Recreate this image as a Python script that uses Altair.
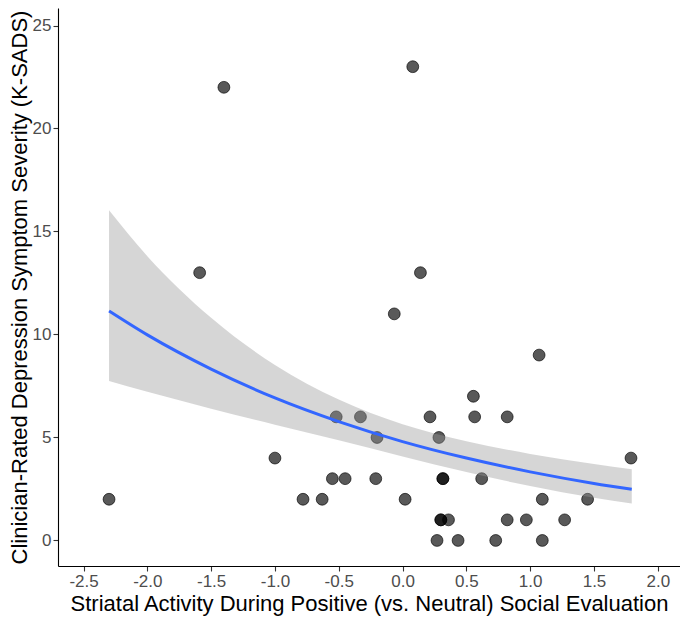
import altair as alt
import pandas as pd

# Scatter data
activity = [-2.30, -1.40, -1.59, -1.00, -0.78, -0.63, -0.55, -0.45, -0.21,
            -0.52, -0.33, -0.20, 0.08, 0.14, -0.065, 1.07, 0.555, 0.215,
            0.565, 0.82, 0.285, 1.79, 0.316, 0.316, 0.62, 0.02, 1.095, 1.45,
            0.30, 0.30, 0.36, 0.82, 0.97, 1.27, 0.27, 0.435, 0.73, 1.095]
severity = [2, 22, 13, 4, 2, 2, 3, 3, 3,
            6, 6, 5, 23, 13, 11, 9, 7, 6,
            6, 6, 5, 4, 3, 3, 3, 2, 2, 2,
            1, 1, 1, 1, 1, 1, 0, 0, 0, 0]

# Fitted curve and confidence band
fit_x = [-2.3, -2.0, -1.5, -1.0, -0.5, 0.0, 0.5, 1.0, 1.5, 1.796]
fit_y = [11.14, 9.98, 8.32, 6.92, 5.77, 4.80, 4.00, 3.33, 2.77, 2.49]
fit_lo = [7.74, 7.22, 6.40, 5.62, 4.87, 4.08, 3.32, 2.64, 2.07, 1.79]
fit_hi = [16.03, 13.80, 10.81, 8.52, 6.84, 5.64, 4.82, 4.20, 3.71, 3.46]

x_ticks = [-2.5, -2.0, -1.5, -1.0, -0.5, 0.0, 0.5, 1.0, 1.5, 2.0]
y_ticks = [0, 5, 10, 15, 20, 25]

x_title = "Striatal Activity During Positive (vs. Neutral) Social Evaluation"
y_title = "Clinician-Rated Depression Symptom Severity (K-SADS)"

pts = pd.DataFrame({"x": activity, "y": severity})
fit = pd.DataFrame({"x": fit_x, "y": fit_y, "lo": fit_lo, "hi": fit_hi})

FONT = "Liberation Sans"

xscale = alt.Scale(domain=[-2.70, 2.174], nice=False, zero=False)
yscale = alt.Scale(domain=[-1.24, 25.85], nice=False, zero=False)

xaxis = alt.Axis(
    title=x_title, values=x_ticks,
    labelExpr="replace(format(datum.value, '.1f'), '\u2212', '-')",
    grid=False, tickSize=5, tickColor="#333333", tickWidth=1.1,
    domainColor="#000000", domainWidth=1.1,
    labelFont=FONT, labelFontSize=17, labelColor="#4D4D4D", labelPadding=2,
    titleFont=FONT, titleFontSize=22, titleFontWeight="normal",
    titleColor="#000000", titlePadding=4,
)
yaxis = alt.Axis(
    title=y_title, values=y_ticks, format="d",
    grid=False, tickSize=5, tickColor="#333333", tickWidth=1.1,
    domainColor="#000000", domainWidth=1.1,
    labelFont=FONT, labelFontSize=17, labelColor="#4D4D4D", labelPadding=2,
    titleFont=FONT, titleFontSize=22, titleFontWeight="normal",
    titleColor="#000000", titlePadding=1,
)

points = alt.Chart(pts).mark_point(
    filled=True, shape="circle", size=140,
    fill="#000000", fillOpacity=0.65,
    stroke="#000000", strokeOpacity=0.65, strokeWidth=1.0,
).encode(
    x=alt.X("x:Q", scale=xscale, axis=xaxis),
    y=alt.Y("y:Q", scale=yscale, axis=yaxis),
)

band = alt.Chart(fit).mark_area(
    color="#999999", opacity=0.4, interpolate="monotone"
).encode(
    x=alt.X("x:Q", scale=xscale),
    y=alt.Y("lo:Q", scale=yscale),
    y2="hi:Q",
)

line = alt.Chart(fit).mark_line(
    color="#3366FF", strokeWidth=3, interpolate="monotone"
).encode(
    x=alt.X("x:Q", scale=xscale),
    y=alt.Y("y:Q", scale=yscale),
)

chart = alt.layer(points, band, line).properties(
    width=622, height=558,
    padding={"left": 0, "top": 0, "right": 0, "bottom": 4},
    background="#FFFFFF",
).configure_view(stroke=None)

chart.save("out.html", embed_options={"renderer": "svg", "actions": False})
